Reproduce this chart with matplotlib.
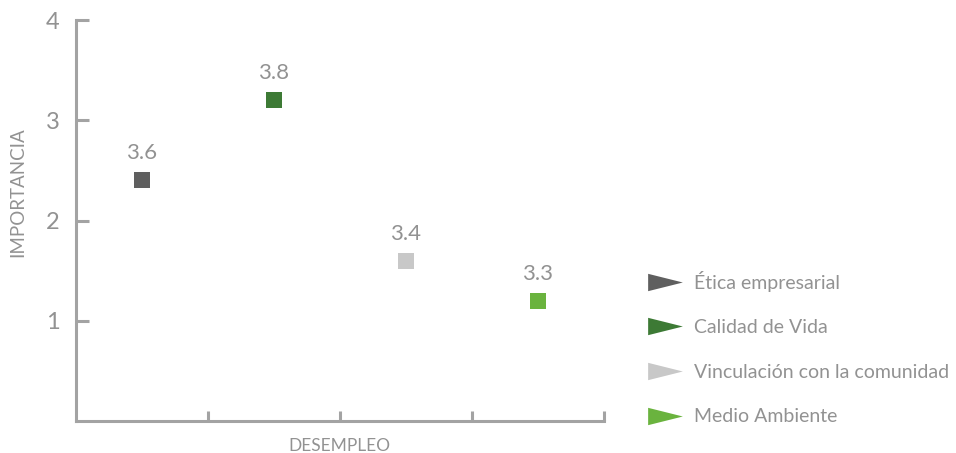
import matplotlib
matplotlib.use('Agg')
import matplotlib.pyplot as plt
from matplotlib.lines import Line2D
from matplotlib.path import Path

plt.rcParams['font.family'] = ['Lato', 'DejaVu Sans']

# Data
categories = ['Ética empresarial', 'Calidad de Vida', 'Vinculación con la comunidad', 'Medio Ambiente']
desempeno = [0.5, 1.5, 2.5, 3.5]
importancia = [2.4, 3.2, 1.6, 1.2]
scores = ['3.6', '3.8', '3.4', '3.3']
colors = ['#5f5f5f', '#3d7a35', '#c8c8c8', '#6ab33e']

text_color = '#929292'
axis_color = '#a3a3a3'

fig = plt.figure(figsize=(9.56, 4.53), dpi=100)
ax = fig.add_axes([0.0795, 0.0706, 0.552, 0.885])

for x, y, s, c in zip(desempeno, importancia, scores, colors):
    ax.scatter(x, y, marker='s', s=130, color=c, linewidths=0, zorder=3)
    ax.annotate(s, (x, y), xytext=(0, 19.5), textcoords='offset points',
                ha='center', va='center', fontsize=16, color=text_color)

ax.set_xlim(0, 4)
ax.set_ylim(0, 4)
ax.set_xticks([1, 2, 3, 4])
ax.set_xticklabels([])
ax.set_yticks([1, 2, 3, 4])
ax.set_yticklabels(['1', '2', '3', '4'])

for side in ['top', 'right']:
    ax.spines[side].set_visible(False)
for side in ['left', 'bottom']:
    ax.spines[side].set_color(axis_color)
    ax.spines[side].set_linewidth(2.2)

ax.tick_params(axis='y', direction='in', length=9.5, width=2.2, color=axis_color,
               labelsize=17, labelcolor=text_color, pad=12)
ax.tick_params(axis='x', direction='in', length=7, width=2.2, color=axis_color)

ax.set_xlabel('DESEMPLEO', fontsize=12.5, color=text_color)
ax.xaxis.set_label_coords(0.5, -0.043)
ax.set_ylabel('IMPORTANCIA', fontsize=13.5, color=text_color)
ax.yaxis.set_label_coords(-0.095, 0.57)

# wide arrow-like triangle for the legend
tri = Path([(-1, -0.5), (1, 0), (-1, 0.5), (-1, -0.5)],
           [Path.MOVETO, Path.LINETO, Path.LINETO, Path.CLOSEPOLY])
handles = [Line2D([], [], linestyle='none', marker=tri, markersize=25,
                  markerfacecolor=c, markeredgewidth=0) for c in colors]
leg = fig.legend(handles, categories, loc='upper left',
                 bbox_to_anchor=(0.665, 0.42), frameon=False,
                 fontsize=14, labelcolor=text_color, labelspacing=1.42,
                 handlelength=2.2, handletextpad=0.4, borderaxespad=0)

fig.savefig('out.png', dpi=100)
